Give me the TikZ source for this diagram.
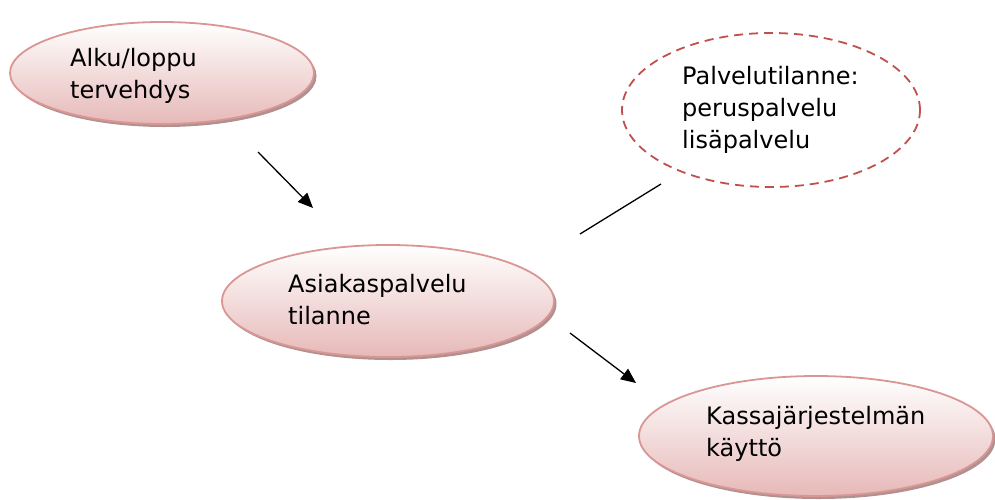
\documentclass[tikz,border=0pt]{standalone}
\usepackage{fontspec}
\setmainfont{DejaVu Sans}
\usetikzlibrary{shapes.geometric,arrows.meta,shadows}
\definecolor{ellborder}{HTML}{D99694}
\definecolor{ellfill}{HTML}{E6B9B8}
\definecolor{dashred}{HTML}{C0504D}
\definecolor{shadowcol}{HTML}{A88484}
\tikzset{
  bubble/.style={ellipse, draw=ellborder, line width=1.8pt,
    top color=white, bottom color=ellfill,
    drop shadow={shadow xshift=2.5pt, shadow yshift=-3pt, fill=shadowcol, opacity=0.9}},
  dashbubble/.style={ellipse, draw=dashred, line width=1.8pt, dash pattern=on 9pt off 6pt},
  lbl/.style={align=left, anchor=north west, font=\fontsize{24}{32}\selectfont, inner sep=0pt},
  conn/.style={line width=1.3pt, draw=black},
  arr/.style={conn, -{Triangle[length=15pt,width=13pt]}}
}
\begin{document}
\begin{tikzpicture}[x=1pt,y=-1pt]
\useasboundingbox (0,0) rectangle (995,499);
\node[bubble, minimum width=304pt, minimum height=102pt] (alku) at (162,73) {};
\node[dashbubble, minimum width=298pt, minimum height=154pt] (palv) at (771,110) {};
\node[bubble, minimum width=332pt, minimum height=112pt] (asiakas) at (388,301) {};
\node[bubble, minimum width=354pt, minimum height=120pt] (kassa) at (816,436) {};
\node[lbl] (talku) at (70,48) {Alku/loppu\\tervehdys};
\node[lbl] (tpalv) at (682,66) {Palvelutilanne:\\peruspalvelu\\lisäpalvelu};
\node[lbl] (tasiakas) at (288,274) {Asiakaspalvelu\\tilanne};
\node[lbl] (tkassa) at (706,406) {Kassajärjestelmän\\käyttö};
\coordinate (a1s) at (258,152);
\coordinate (a1e) at (313,208);
\coordinate (a2s) at (570,333);
\coordinate (a2e) at (636,383);
\coordinate (l1s) at (580,234);
\coordinate (l1e) at (661,184);
\draw[arr] (a1s) -- (a1e);
\draw[arr] (a2s) -- (a2e);
\draw[conn] (l1s) -- (l1e);
\end{tikzpicture}
\end{document}
